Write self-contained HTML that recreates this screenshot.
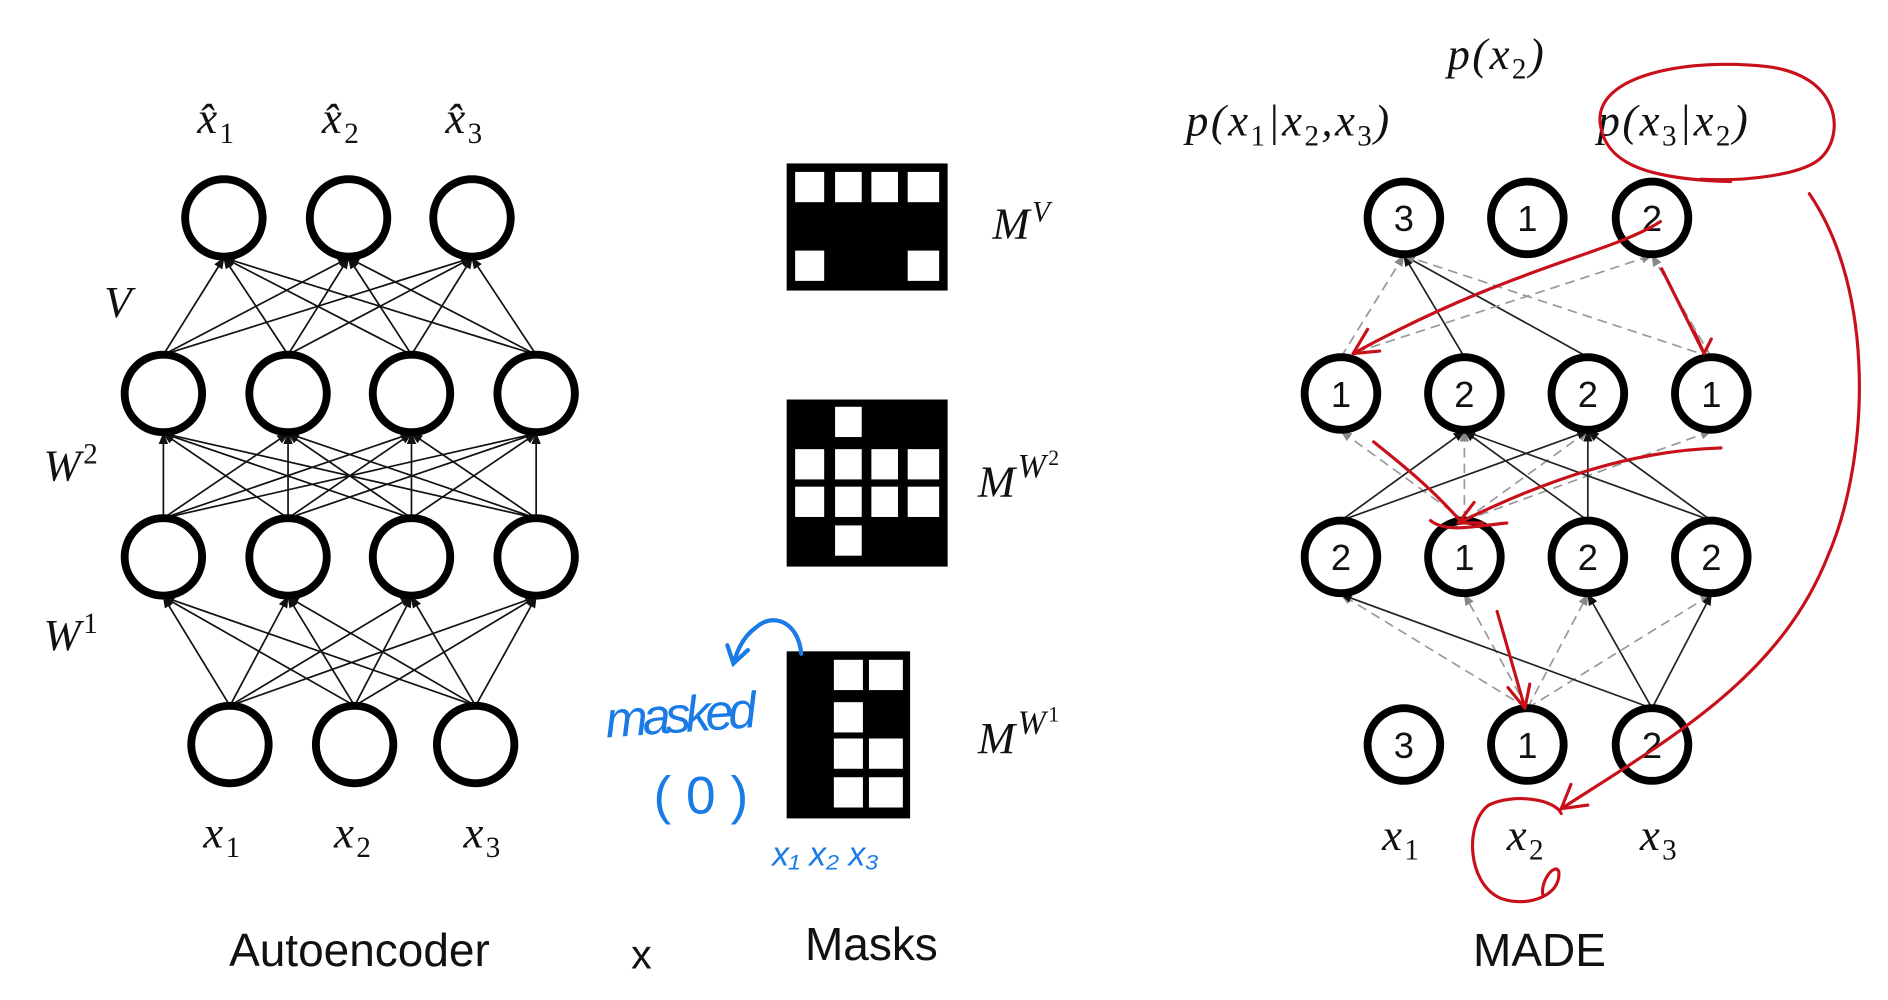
<!DOCTYPE html>
<html><head><meta charset="utf-8"><style>
html,body{margin:0;padding:0;background:#fff;width:1888px;height:1000px;overflow:hidden}
svg{display:block}
.m{font-family:"Liberation Serif",serif;font-style:italic;font-size:37px;fill:#111;letter-spacing:2px}
.s{font-size:24px;font-style:normal}
.n{font-family:"Liberation Sans",sans-serif;font-size:30px;fill:#111;text-anchor:middle}
.t{font-family:"Liberation Sans",sans-serif;font-size:38px;fill:#111;text-anchor:middle}
.h{font-family:"Liberation Sans",sans-serif;fill:#1a7be6}
</style></head><body>
<svg width="1888" height="1000" viewBox="0 0 1560 826" preserveAspectRatio="none" xmlns="http://www.w3.org/2000/svg">
<defs>
<marker id="a" viewBox="0 0 10 10" refX="9" refY="5" markerWidth="7" markerHeight="7" orient="auto"><path d="M0,1 L10,5 L0,9z" fill="#111"/></marker>
<marker id="g" viewBox="0 0 10 10" refX="9" refY="5" markerWidth="7" markerHeight="7" orient="auto"><path d="M0,1 L10,5 L0,9z" fill="#888"/></marker>
</defs>
<g stroke="#111" stroke-width="1.4" marker-end="url(#a)" id="ae"></g>
<g stroke-width="1.4" id="md"></g>
<g fill="#fff" stroke="#000" stroke-width="6.5" id="cir"></g>
<!-- autoencoder labels -->
<text class="m" x="163" y="110">x̂<tspan class="s" dy="8">1</tspan></text>
<text class="m" x="266" y="110">x̂<tspan class="s" dy="8">2</tspan></text>
<text class="m" x="368" y="110">x̂<tspan class="s" dy="8">3</tspan></text>
<text class="m" x="86" y="262">V</text>
<text class="m" x="36" y="397">W<tspan class="s" dy="-14">2</tspan></text>
<text class="m" x="36" y="537">W<tspan class="s" dy="-14">1</tspan></text>
<text class="m" x="168" y="700">x<tspan class="s" dy="8">1</tspan></text>
<text class="m" x="276" y="700">x<tspan class="s" dy="8">2</tspan></text>
<text class="m" x="383" y="700">x<tspan class="s" dy="8">3</tspan></text>
<text class="t" x="297" y="798">Autoencoder</text>
<text class="t" x="530" y="800" style="font-size:34px">x</text>
<text class="t" x="720" y="793">Masks</text>
<!-- masks -->
<g fill="#000"><rect x="650" y="135" width="133" height="105"/><rect x="650" y="330" width="133" height="138"/><rect x="650" y="538" width="102" height="138"/></g>
<g fill="#fff">
<rect x="657" y="142" width="24" height="25"/><rect x="690" y="142" width="22" height="25"/><rect x="720" y="142" width="22" height="25"/><rect x="750" y="142" width="26" height="25"/>
<rect x="657" y="207" width="24" height="25"/><rect x="750" y="207" width="26" height="25"/>
<rect x="690" y="336" width="22" height="25"/>
<rect x="657" y="371" width="24" height="25"/><rect x="690" y="371" width="22" height="25"/><rect x="720" y="371" width="22" height="25"/><rect x="750" y="371" width="26" height="25"/>
<rect x="657" y="402" width="24" height="25"/><rect x="690" y="402" width="22" height="25"/><rect x="720" y="402" width="22" height="25"/><rect x="750" y="402" width="26" height="25"/>
<rect x="690" y="434" width="22" height="25"/>
<rect x="689" y="545" width="24" height="25"/><rect x="718" y="545" width="28" height="25"/>
<rect x="689" y="580" width="24" height="25"/>
<rect x="689" y="610" width="24" height="25"/><rect x="718" y="610" width="28" height="25"/>
<rect x="689" y="642" width="24" height="25"/><rect x="718" y="642" width="28" height="25"/>
</g>
<text class="m" x="820" y="197">M<tspan class="s" dy="-14" style="font-style:italic">V</tspan></text>
<text class="m" x="808" y="410">M<tspan dy="-16" style="font-style:italic;font-size:28px">W</tspan><tspan dy="-10" style="font-size:18px;font-style:normal">2</tspan></text>
<text class="m" x="808" y="622">M<tspan dy="-16" style="font-style:italic;font-size:28px">W</tspan><tspan dy="-10" style="font-size:18px;font-style:normal">1</tspan></text>
<!-- blue handwriting -->
<g fill="none" stroke="#1a7be6" stroke-width="3.5" stroke-linecap="round">
<path d="M662,540 C660,515 640,505 625,518 C615,525 610,535 607,545"/>
<path d="M601,533 L606,548 L618,537"/>
</g>
<text class="h" x="500" y="605" style="font-size:42px;font-style:italic" transform="rotate(-4 560 590)" textLength="125">masked</text>
<text class="h" x="540" y="672" style="font-size:44px">( 0 )</text>
<text class="h" x="638" y="715" style="font-size:28px;font-style:italic">x₁ x₂ x₃</text>
<!-- MADE labels -->
<text class="m" x="1196" y="57">p(x<tspan class="s" dy="8">2</tspan><tspan dy="-8">)</tspan></text>
<text class="m" x="980" y="112">p(x<tspan class="s" dy="8">1</tspan><tspan dy="-8">|x</tspan><tspan class="s" dy="8">2</tspan><tspan dy="-8">,x</tspan><tspan class="s" dy="8">3</tspan><tspan dy="-8">)</tspan></text>
<text class="m" x="1320" y="112">p(x<tspan class="s" dy="8">3</tspan><tspan dy="-8">|x</tspan><tspan class="s" dy="8">2</tspan><tspan dy="-8">)</tspan></text>
<text class="m" x="1142" y="702">x<tspan class="s" dy="8">1</tspan></text>
<text class="m" x="1245" y="702">x<tspan class="s" dy="8">2</tspan></text>
<text class="m" x="1355" y="702">x<tspan class="s" dy="8">3</tspan></text>
<text class="t" x="1272" y="798">MADE</text>
<g id="nums"></g>
<!-- red annotations -->
<g fill="none" stroke="#c8101a" stroke-width="2.6" stroke-linecap="round">
<path d="M1430,150 C1360,148 1325,135 1322,100 C1320,60 1400,48 1460,55 C1520,62 1525,110 1505,130 C1490,145 1440,150 1405,148"/>
<path d="M1495,160 C1550,240 1545,380 1510,460 C1470,560 1380,610 1290,668"/>
<path d="M1290,668 L1312,665 M1290,668 L1298,648"/>
<path d="M1372,183 C1330,210 1250,220 1118,292"/>
<path d="M1118,292 L1140,290 M1118,292 L1130,272"/>
<path d="M1373,222 L1408,292 M1408,292 L1400,274 M1408,292 L1414,280"/>
<path d="M1135,365 C1160,385 1185,405 1208,432"/>
<path d="M1422,370 C1350,372 1280,395 1205,432 M1205,432 L1225,432 M1205,432 L1218,415"/>
<path d="M1182,430 C1195,440 1215,435 1245,432"/>
<path d="M1237,505 L1260,585 M1260,585 L1246,568 M1260,585 L1264,565"/>
<path d="M1290,672 C1285,660 1250,655 1230,665 C1210,680 1212,730 1240,742 C1262,750 1290,740 1288,720 C1285,712 1272,728 1275,740"/>
</g>
<script>
var N='http://www.w3.org/2000/svg';
function el(p,t,a){var e=document.createElementNS(N,t);for(var k in a)e.setAttribute(k,a[k]);p.appendChild(e);return e}
var ae=document.getElementById('ae'),cir=document.getElementById('cir'),md=document.getElementById('md'),nums=document.getElementById('nums');
var R=32;
var out=[185,288,390],h=[135,238,340,443],inp=[190,293,393];
function full(lo,ly,hi,hy){lo.forEach(function(a){hi.forEach(function(b){el(ae,'line',{x1:a,y1:ly-R,x2:b,y2:hy+R+1})})})}
full(h,325,out,180);full(h,460,h,325);full(inp,615,h,460);
function circles(xs,y){xs.forEach(function(x){el(cir,'circle',{cx:x,cy:y,r:R})})}
circles(out,180);circles(h,325);circles(h,460);circles(inp,615);
var mo=[1160,1262,1365],mh=[1108,1210,1312,1414],R2=30;
function e(x1,y1,x2,y2,d){el(md,'line',{x1:x1,y1:y1-R2,x2:x2,y2:y2+R2+1,stroke:d?'#999':'#222','stroke-dasharray':d?'8,5':'none','marker-end':d?'url(#g)':'url(#a)'})}
mh.forEach(function(x){e(1262,615,x,460,true)});
[0,2,3].forEach(function(i){e(1365,615,mh[i],460,false)});
mh.forEach(function(x){e(1210,460,x,325,true)});
[0,2,3].forEach(function(i){[1,2].forEach(function(j){e(mh[i],460,mh[j],325,false)})});
[1,2].forEach(function(j){e(mh[j],325,1160,180,false)});
[0,3].forEach(function(j){e(mh[j],325,1160,180,true);e(mh[j],325,1365,180,true)});
function mc(xs,y,ls){xs.forEach(function(x,i){el(cir,'circle',{cx:x,cy:y,r:R2});var t=el(nums,'text',{x:x,y:y+11,'class':'n'});t.textContent=ls[i]})}
mc(mo,180,['3','1','2']);mc(mh,325,['1','2','2','1']);mc(mh,460,['2','1','2','2']);mc(mo,615,['3','1','2']);
</script>
</svg>
</body></html>
